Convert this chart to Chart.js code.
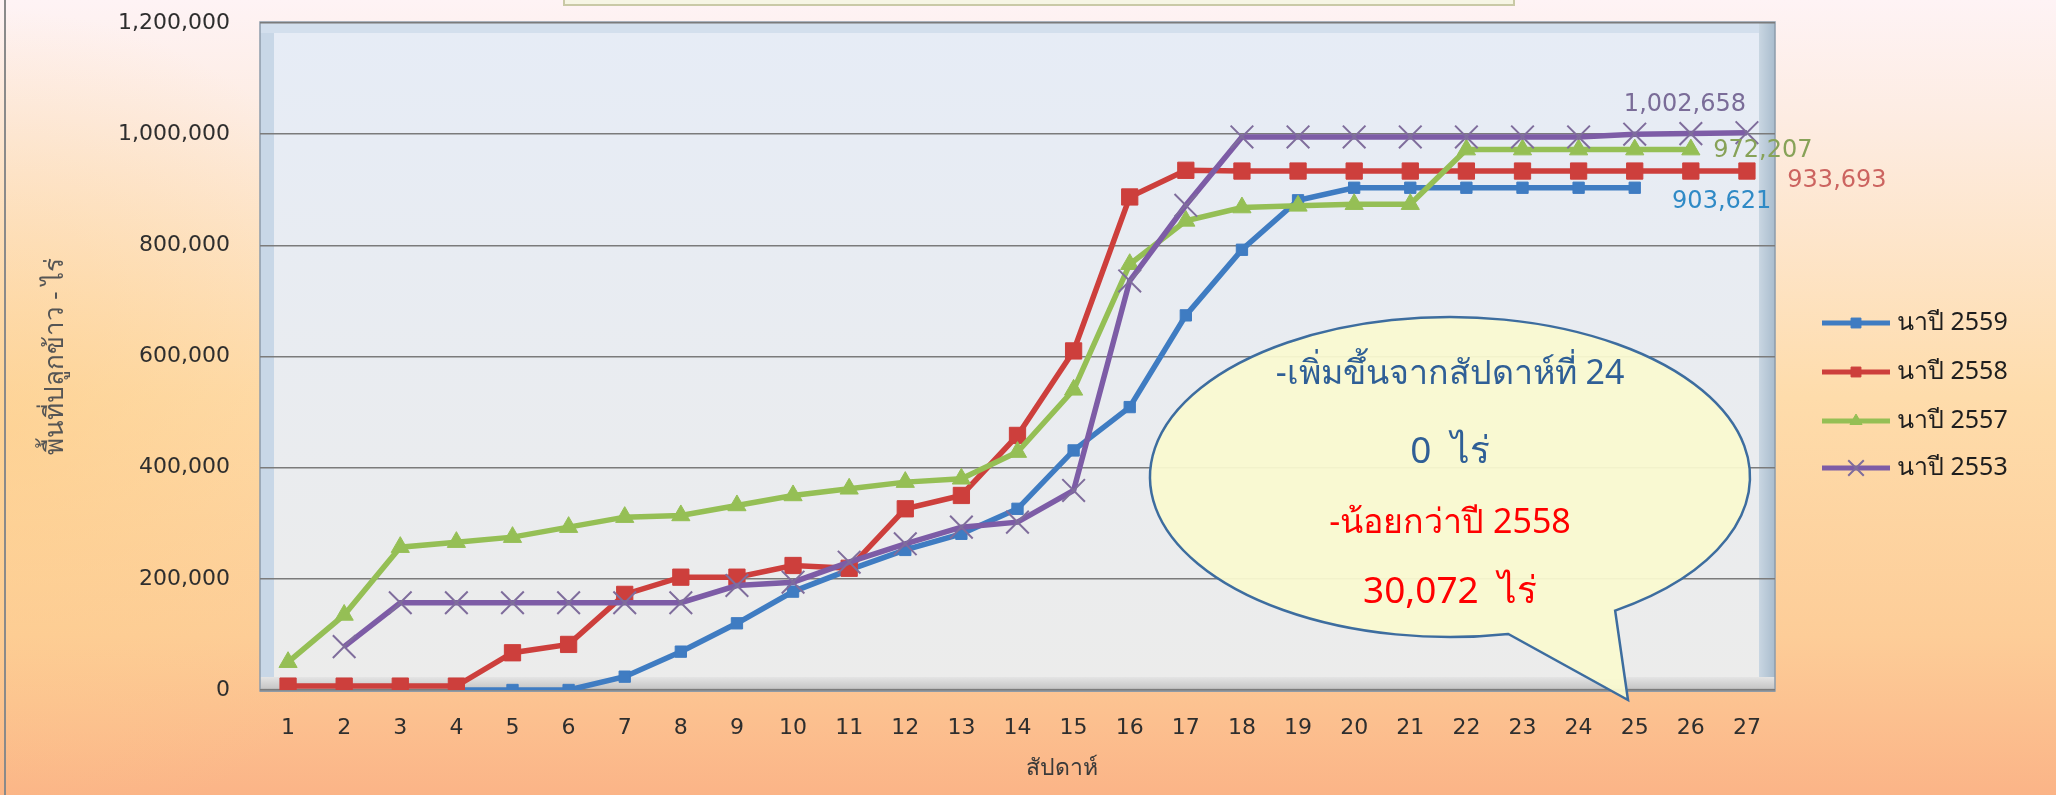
<!DOCTYPE html>
<html>
<head>
<meta charset="utf-8">
<script src="https://cdn.jsdelivr.net/npm/chart.js@4.4.1/dist/chart.umd.min.js"></script>
<style>
  html, body { margin: 0; padding: 0; background: #fde0b4; }
  #wrap { width: 2056px; height: 795px; }
</style>
</head>
<body>
<div id="wrap"><canvas id="rice" width="2056" height="795"></canvas></div>
<script>
// weeks of the season and cumulative planted area (rai) per crop year
const weeks = ['1', '2', '3', '4', '5', '6', '7', '8', '9', '10', '11', '12', '13', '14',
    '15', '16', '17', '18', '19', '20', '21', '22', '23', '24', '25', '26', '27'];
const area2559 = [null, null, null, 0, 0, 0, 24000, 69000, 120000, 177000, 216000, 252000, 281000, 326000,
    431000, 509000, 674000, 792000, 881000, 903621, 903621, 903621, 903621, 903621, 903621, null, null];
const area2558 = [7000, 7000, 7000, 7000, 67000, 82000, 172000, 203000, 203000, 224000, 219000, 326000, 350000, 458000,
    610000, 887000, 935000, 933693, 933693, 933693, 933693, 933693, 933693, 933693, 933693, 933693, 933693];
const area2557 = [50000, 135000, 257000, 266000, 275000, 293000, 311000, 314000, 332000, 350000, 362000, 374000, 380000, 428000,
    540000, 766000, 844000, 868000, 871000, 874000, 874000, 972207, 972207, 972207, 972207, 972207, null];
const area2553 = [null, 78000, 157000, 157000, 157000, 157000, 157000, 157000, 188000, 194000, 230000, 263000, 293000, 302000,
    359000, 736000, 872000, 995000, 995000, 995000, 995000, 995000, 995000, 995000, 1000000, 1001000, 1002658];
const seriesNames = ['นาปี 2559', 'นาปี 2558', 'นาปี 2557', 'นาปี 2553'];
const yTicks = [0, 200000, 400000, 600000, 800000, 1000000, 1200000];
const calloutLines = ['-เพิ่มขึ้นจากสัปดาห์ที่ 24', '0  ไร่', '-น้อยกว่าปี 2558', '30,072  ไร่'];

const FONT = "Tahoma, 'DejaVu Sans', 'Noto Sans', sans-serif";
const THAI = "'Noto Sans', 'DejaVu Sans', sans-serif";

// page + plot wall background, drawn before the grid
const backdrop = {
    id: 'backdrop',
    beforeDraw(chart) {
        const ctx = chart.ctx;
        const a = chart.chartArea;
        ctx.save();
        let g = ctx.createLinearGradient(0, 0, 0, 795);
        g.addColorStop(0, '#fef3f5');
        g.addColorStop(0.15, '#fdece2');
        g.addColorStop(0.5, '#fedcab');
        g.addColorStop(0.8, '#fdcd98');
        g.addColorStop(1, '#fbb487');
        ctx.fillStyle = g;
        ctx.fillRect(0, 0, 2056, 795);
        g = ctx.createRadialGradient(0, 430, 0, 0, 430, 420);
        g.addColorStop(0, 'rgba(253,205,135,0.55)');
        g.addColorStop(1, 'rgba(253,205,135,0)');
        ctx.fillStyle = g;
        ctx.fillRect(0, 0, 600, 795);

        // slide border and the bottom of the title box
        ctx.strokeStyle = '#8a8a8a';
        ctx.lineWidth = 2;
        ctx.beginPath();
        ctx.moveTo(5, 0);
        ctx.lineTo(5, 795);
        ctx.stroke();
        ctx.fillStyle = '#f6f5e4';
        ctx.strokeStyle = '#c9c9a6';
        ctx.fillRect(564, -10, 950, 15);
        ctx.strokeRect(564, -10, 950, 15);

        // plot wall
        g = ctx.createLinearGradient(0, a.top, 0, a.bottom);
        g.addColorStop(0, '#e6ecf6');
        g.addColorStop(1, '#ececeb');
        ctx.fillStyle = g;
        ctx.fillRect(a.left, a.top - 1, a.right - a.left, a.bottom - a.top + 1);
        ctx.fillStyle = '#c8d7e7';
        ctx.fillRect(a.left, a.top - 1, 14, a.bottom - a.top);
        ctx.fillStyle = '#d3dfed';
        ctx.fillRect(a.left, a.top - 1, a.right - a.left, 11);
        g = ctx.createLinearGradient(a.right - 16, 0, a.right, 0);
        g.addColorStop(0, '#c9d6e2');
        g.addColorStop(1, '#a9bccd');
        ctx.fillStyle = g;
        ctx.fillRect(a.right - 16, a.top - 1, 16, a.bottom - a.top);
        g = ctx.createLinearGradient(0, a.bottom - 13, 0, a.bottom + 2);
        g.addColorStop(0, '#e4e4e4');
        g.addColorStop(0.7, '#c9c9c9');
        g.addColorStop(1, '#8f8f8f');
        ctx.fillStyle = g;
        ctx.fillRect(a.left, a.bottom - 13, a.right - a.left, 15);
        ctx.strokeStyle = '#8d9cab';
        ctx.lineWidth = 1.5;
        ctx.strokeRect(a.left, a.top - 1, a.right - a.left, a.bottom - a.top + 2);
        ctx.restore();
    }
};

// end values, callout bubble, legend and x title
const overlay = {
    id: 'overlay',
    afterDraw(chart) {
        const ctx = chart.ctx;
        const xs = chart.scales.x;
        const ys = chart.scales.y;
        ctx.save();

        const endLabel = (data, idx, dx, dy, color) => {
            const x = xs.getPixelForValue(idx) + dx;
            const y = ys.getPixelForValue(data[idx]) + dy;
            ctx.fillStyle = color;
            ctx.font = '24px ' + FONT;
            ctx.textAlign = 'center';
            ctx.textBaseline = 'middle';
            ctx.fillText(data[idx].toLocaleString('en-US'), x, y);
        };
        endLabel(area2553, 26, -62, -28, '#7a6c98');
        endLabel(area2557, 25, 72, 1, '#87a258');
        endLabel(area2558, 26, 90, 10, '#cc6460');
        endLabel(area2559, 24, 87, 14, '#2f8ac6');

        // callout
        const cx = 1450, cy = 477, rx = 300, ry = 160;
        ctx.beginPath();
        ctx.ellipse(cx, cy, rx, ry, 0, 78.8 * Math.PI / 180, 56.6 * Math.PI / 180, false);
        ctx.lineTo(1628, 700);
        ctx.closePath();
        ctx.fillStyle = 'rgba(250,250,208,0.94)';
        ctx.fill();
        ctx.strokeStyle = '#3d6d9f';
        ctx.lineWidth = 2.5;
        ctx.stroke();

        const line = (text, y, size, color, w) => {
            ctx.font = size + 'px ' + THAI;
            ctx.fillStyle = color;
            ctx.textAlign = 'center';
            ctx.textBaseline = 'alphabetic';
            const m = ctx.measureText(text).width;
            const k = Math.min(1, w / m);
            ctx.save();
            ctx.translate(cx, y);
            ctx.scale(k, 1);
            ctx.fillText(text, 0, 0);
            ctx.restore();
        };
        line(calloutLines[0], 384, 34, '#2f5f96', 356);
        line(calloutLines[1], 463, 37, '#2f5f96', 84);
        line(calloutLines[2], 533, 34, '#ff0000', 250);
        line(calloutLines[3], 603, 37, '#ff0000', 178);

        // legend
        const legendY = [323, 372, 421, 468];
        chart.data.datasets.forEach((ds, i) => {
            const y = legendY[i];
            ctx.strokeStyle = ds.borderColor;
            ctx.lineWidth = 5;
            ctx.beginPath();
            ctx.moveTo(1822, y);
            ctx.lineTo(1890, y);
            ctx.stroke();
            ctx.fillStyle = ds.pointBackgroundColor;
            ctx.strokeStyle = ds.pointBorderColor;
            ctx.lineWidth = ds.pointBorderWidth;
            Chart.helpers.drawPoint(ctx, {
                pointStyle: ds.pointStyle,
                radius: ds.pointStyle === 'crossRot' ? 11 : 7,
                borderWidth: ds.pointBorderWidth
            }, 1856, y);
            ctx.font = '25px ' + THAI;
            ctx.fillStyle = '#1e1e1e';
            ctx.textAlign = 'left';
            ctx.textBaseline = 'middle';
            ctx.fillText(ds.label, 1897, y);
        });

        ctx.font = '23px ' + THAI;
        ctx.fillStyle = '#3a3a3a';
        ctx.textAlign = 'center';
        ctx.textBaseline = 'middle';
        ctx.fillText('สัปดาห์', 1062, 768);
        ctx.restore();
    }
};

const series = (label, data, color, style, radius, order, pointColor) => ({
    label: label,
    data: data,
    borderColor: color,
    backgroundColor: color,
    pointBackgroundColor: pointColor || color,
    pointBorderColor: pointColor || color,
    pointBorderWidth: style === 'crossRot' ? 2 : 1,
    pointStyle: style,
    pointRadius: radius,
    borderWidth: 5.5,
    tension: 0,
    spanGaps: false,
    order: order
});

new Chart(document.getElementById('rice'), {
    type: 'line',
    data: {
        labels: weeks,
        datasets: [
            series(seriesNames[0], area2559, '#3f7cc2', 'rect', 8, 4),
            series(seriesNames[1], area2558, '#cd3f3c', 'rect', 11.5, 3),
            series(seriesNames[2], area2557, '#95bf55', 'triangle', 10.5, 2),
            series(seriesNames[3], area2553, '#7d5ca6', 'crossRot', 16, 1, '#7f6d9c')
        ]
    },
    options: {
        responsive: false,
        animation: false,
        layout: { padding: { top: 23, right: 281, bottom: 0, left: 0 } },
        plugins: {
            legend: { display: false },
            tooltip: { enabled: false }
        },
        scales: {
            x: {
                offset: true,
                grid: { display: false },
                border: { display: false },
                ticks: {
                    color: '#2e2e2e',
                    padding: 17,
                    maxRotation: 0,
                    autoSkip: false,
                    font: { family: FONT, size: 22 }
                },
                afterFit: (s) => { s.height = 105; }
            },
            y: {
                min: 0,
                max: 1200000,
                afterBuildTicks: (s) => { s.ticks = yTicks.map(v => ({ value: v })); },
                ticks: {
                    color: '#2e2e2e',
                    padding: 30,
                    font: { family: FONT, size: 22 },
                    callback: (v) => v.toLocaleString('en-US')
                },
                grid: { color: '#7b7b7b', lineWidth: 1.5, drawTicks: false },
                border: { display: false },
                title: {
                    display: true,
                    text: 'พื้นที่ปลูกข้าว - ไร่',
                    color: '#555',
                    font: { family: THAI, size: 26 },
                    padding: { top: 40, bottom: 0 }
                },
                afterFit: (s) => {
                    s.width = 260;
                    s.paddingTop = 0;
                    s.paddingBottom = 0;
                }
            }
        }
    },
    plugins: [backdrop, overlay]
});
</script>
</body>
</html>
